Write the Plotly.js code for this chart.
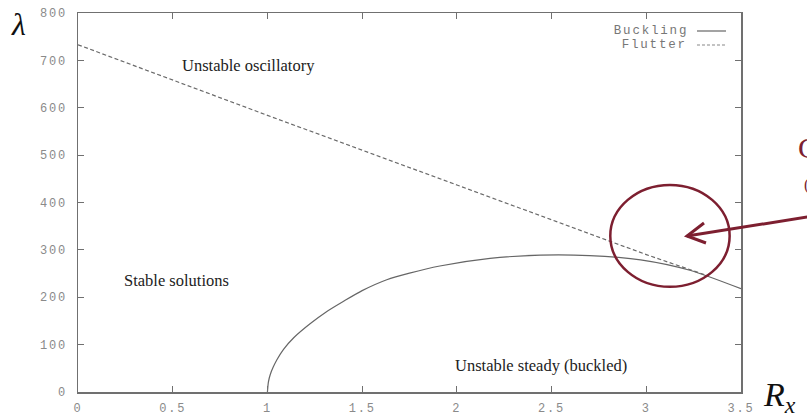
<!DOCTYPE html>
<html>
<head>
<meta charset="utf-8">
<script src="https://cdn.plot.ly/plotly-3.0.1.min.js"></script>
<style>
  html, body { margin: 0; padding: 0; background: #fff; }
  #chart { width: 807px; height: 418px; }
  /* wide typewriter look for the monospaced labels */
  #chart text[style*="Mono"] { letter-spacing: 1.8px; }
</style>
</head>
<body>
<div id="chart"></div>
<script>
// Stability boundaries in the (R_x, lambda) plane
const bucklingRx     = [1.0, 1.005, 1.015, 1.03, 1.05, 1.085, 1.14, 1.225, 1.31, 1.4, 1.5, 1.63, 1.75, 1.91, 2.175, 2.44, 2.7, 2.97, 3.23, 3.5];
const bucklingLambda = [0, 21, 37, 52, 68, 90, 115, 144, 169, 191, 214, 237, 251, 266, 282, 289, 288, 279, 257, 218];

const flutterRx     = [0, 1, 2, 3, 3.32];
const flutterLambda = [733, 584, 437, 290, 246];

const xTicks = [0, 0.5, 1, 1.5, 2, 2.5, 3, 3.5];
const xTickLabels = ['0', '0.5', '1', '1.5', '2', '2.5', '3', '3.5'];
const yTicks = [0, 100, 200, 300, 400, 500, 600, 700, 800];

const regionLabels = [
  { text: 'Unstable oscillatory', x: 0.90, y: 690 },
  { text: 'Stable solutions', x: 0.52, y: 236 },
  { text: 'Unstable steady (buckled)', x: 2.445, y: 55 }
];

const legendNames = ['Buckling', 'Flutter'];

const lineGray = '#666';
const maroon = '#7d1f30';
const mono = '"Liberation Mono", monospace';
const serif = '"Liberation Serif", "DejaVu Serif", serif';

const traces = [
  {
    x: bucklingRx, y: bucklingLambda, name: legendNames[0],
    mode: 'lines', line: { color: lineGray, width: 1.2, shape: 'spline', smoothing: 0.7 },
    hoverinfo: 'skip'
  },
  {
    x: flutterRx, y: flutterLambda, name: legendNames[1],
    mode: 'lines', line: { color: '#6a6a6a', width: 1.2, dash: '4px,2.5px' },
    hoverinfo: 'skip'
  }
];

const annotations = regionLabels.map(r => ({
  x: r.x, y: r.y, xref: 'x', yref: 'y', text: r.text, showarrow: false,
  font: { family: serif, size: 16.5, color: '#222' }
}));

// axis symbols
annotations.push({
  xref: 'paper', yref: 'paper', x: -0.089, y: 0.971, xanchor: 'center', yanchor: 'middle',
  text: '<i>λ</i>', showarrow: false, font: { family: serif, size: 32, color: '#111' }
});
annotations.push({
  xref: 'paper', yref: 'paper', x: 1.03, y: -0.012, xanchor: 'left', yanchor: 'middle',
  text: '<i>R<sub>x</sub></i>', showarrow: false, font: { family: serif, size: 34, color: '#111' }
});

// legend: names on the left, line samples on the right
const legendY = [0.9525, 0.9156];
legendNames.forEach((name, i) => {
  annotations.push({
    xref: 'paper', yref: 'paper', x: 0.9125, y: legendY[i], xanchor: 'right', yanchor: 'middle',
    text: name, showarrow: false, font: { family: mono, size: 12.5, color: '#777' }
  });
});

// partially visible callout text at the right edge
annotations.push({
  xref: 'paper', yref: 'paper', x: 1.083, y: 0.645, xanchor: 'left', yanchor: 'middle',
  text: 'C', showarrow: false, font: { family: serif, size: 30, color: maroon }
});
annotations.push({
  xref: 'paper', yref: 'paper', x: 1.092, y: 0.545, xanchor: 'left', yanchor: 'middle',
  text: '(', showarrow: false, font: { family: serif, size: 16, color: maroon }
});

const layout = {
  width: 807, height: 418,
  margin: { l: 78, r: 66, t: 13, b: 26 },
  paper_bgcolor: '#fff', plot_bgcolor: '#fff',
  showlegend: false,
  xaxis: {
    range: [0, 3.5], tickvals: xTicks, ticktext: xTickLabels,
    ticks: 'inside', ticklen: 6, tickwidth: 1.2, tickcolor: '#707070',
    showline: true, linecolor: '#707070', linewidth: 1.5, mirror: 'ticks',
    showgrid: false, zeroline: false, ticklabelstandoff: 4,
    tickfont: { family: mono, size: 12, color: '#8a8a8a' }
  },
  yaxis: {
    range: [0, 800], tickvals: yTicks,
    ticks: 'inside', ticklen: 6, tickwidth: 1.2, tickcolor: '#707070',
    showline: true, linecolor: '#707070', linewidth: 1.5, mirror: 'ticks',
    showgrid: false, zeroline: false, ticklabelstandoff: 7,
    tickfont: { family: mono, size: 12, color: '#8a8a8a' }
  },
  annotations: annotations,
  shapes: [
    // legend line samples
    { type: 'line', xref: 'paper', yref: 'paper', x0: 0.9336, x1: 0.9774, y0: legendY[0], y1: legendY[0],
      line: { color: lineGray, width: 1.2 } },
    { type: 'line', xref: 'paper', yref: 'paper', x0: 0.9336, x1: 0.9774, y0: legendY[1], y1: legendY[1],
      line: { color: '#888', width: 1.1, dash: '3px,2px' } },
    // callout circle
    { type: 'circle', xref: 'x', yref: 'y', x0: 2.81, x1: 3.44, y0: 222, y1: 437,
      line: { color: maroon, width: 2.5 } },
    // callout arrow shaft
    { type: 'line', xref: 'paper', yref: 'paper', x0: 1.1, y0: 0.4617, x1: 0.9186, y1: 0.4116,
      line: { color: maroon, width: 3 } },
    // arrow head
    { type: 'path', xref: 'paper', yref: 'paper',
      path: 'M 0.9442,0.4459 L 0.9186,0.4116 L 0.9472,0.3931',
      line: { color: maroon, width: 3 } }
  ]
};

Plotly.newPlot('chart', traces, layout, { displayModeBar: false, staticPlot: true });
</script>
</body>
</html>
